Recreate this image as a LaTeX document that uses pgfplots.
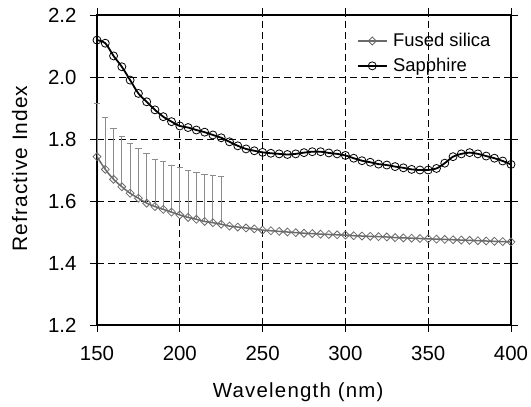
\documentclass[border=0pt]{standalone}
\usepackage{pgfplots}
\pgfplotsset{compat=1.18}
\usepackage{pgfplotstable}
\usepackage{fontspec}
\setmainfont{Liberation Sans}
\definecolor{silica}{HTML}{6A6A6A}
\definecolor{errgray}{HTML}{8C8C8C}

\pgfplotstableread{
x y
150 1.743
155 1.702
160 1.670
165 1.646
170 1.625
175 1.609
180 1.593
185 1.582
190 1.573
195 1.564
200 1.555
205 1.547
210 1.541
215 1.534
220 1.530
225 1.525
230 1.519
235 1.516
240 1.513
245 1.510
250 1.506
255 1.504
260 1.502
265 1.500
270 1.498
275 1.496
280 1.495
285 1.493
290 1.492
295 1.491
300 1.490
305 1.488
310 1.487
315 1.486
320 1.485
325 1.484
330 1.482
335 1.481
340 1.480
345 1.479
350 1.478
355 1.477
360 1.476
365 1.475
370 1.474
375 1.473
380 1.472
385 1.471
390 1.470
395 1.469
400 1.468
}\silica

\pgfplotstableread{
x y e
150 1.743 0.173
155 1.702 0.168
160 1.670 0.165
165 1.646 0.161
170 1.625 0.162
175 1.609 0.159
180 1.593 0.159
185 1.582 0.153
190 1.573 0.153
195 1.564 0.152
200 1.555 0.154
205 1.547 0.153
210 1.541 0.152
215 1.534 0.153
220 1.530 0.154
225 1.525 0.153
}\silicaerr

\pgfplotstableread{
x y
150 2.119
155 2.109
160 2.068
165 2.033
170 1.990
175 1.947
180 1.920
185 1.894
190 1.872
195 1.856
200 1.842
205 1.837
210 1.829
215 1.822
220 1.813
225 1.804
230 1.791
235 1.778
240 1.768
245 1.762
250 1.757
255 1.754
260 1.752
265 1.750
270 1.752
275 1.756
280 1.759
285 1.759
290 1.755
295 1.752
300 1.747
305 1.738
310 1.730
315 1.725
320 1.719
325 1.716
330 1.711
335 1.707
340 1.702
345 1.700
350 1.700
355 1.705
360 1.722
365 1.743
370 1.752
375 1.756
380 1.752
385 1.745
390 1.738
395 1.729
400 1.718
}\sapphire

\begin{document}
\begin{tikzpicture}
\useasboundingbox (0,0) rectangle (531bp,407bp);
\begin{axis}[
  at={(97bp,82bp)}, anchor=south west,
  scale only axis, width=414bp, height=310bp,
  xmin=150, xmax=400, ymin=1.2, ymax=2.2,
  xtick={150,200,...,400},
  ytick={1.2,1.4,...,2.2},
  /pgf/number format/assume math mode=true,
  yticklabel style={/pgf/number format/.cd, fixed, fixed zerofill, precision=1},
  xticklabel style={/pgf/number format/.cd, fixed, precision=0, set thousands separator={}},
  tick label style={font=\fontsize{20.5}{24}\selectfont},
  xticklabel shift=11bp,
  yticklabel shift=10bp,
  tick align=outside,
  major tick length=7bp,
  tick style={black, line width=0.8bp},
  axis line style={black, line width=1.6bp},
  grid=major,
  major grid style={black, line width=0.8bp, dash pattern=on 7bp off 4bp},
  xlabel={\addfontfeature{LetterSpace=6}Wavelength (nm)},
  ylabel={\addfontfeature{LetterSpace=5}Refractive Index},
  every axis x label/.style={at={(rel axis cs:0.486,-0.235)}, anchor=base, font=\fontsize{20.5}{24}\selectfont},
  every axis y label/.style={at={(rel axis cs:-0.169,0.505)}, anchor=base, rotate=90, font=\fontsize{21}{24}\selectfont},
  legend style={draw=none, fill=none, at={(rel axis cs:0.62,0.952)}, anchor=north west,
    font=\fontsize{18.5}{22}\selectfont, row sep=7bp,
    nodes={inner sep=1.5bp}},
  legend cell align=left,
  legend image code/.code={\draw[mark repeat=2,mark phase=2] plot coordinates {(0bp,0bp) (14.5bp,0bp) (29bp,0bp)};},
  /tikz/every odd column/.append style={column sep=4bp},
]
\addplot[draw=none, mark=none, forget plot,
  error bars/.cd, y dir=plus, y explicit,
  error mark=none,
  error bar style={draw=errgray, line width=0.9bp}]
  table[x=x, y=y, y error=e] {\silicaerr};
\addplot[only marks, mark=-, mark size=3.2bp, forget plot,
  mark options={draw=errgray, line width=0.9bp}]
  table[x=x, y expr=\thisrow{y}+\thisrow{e}] {\silicaerr};
\addplot[silica, line width=1.5bp, smooth, mark=square, mark size=2.8bp,
  mark options={rotate=45, line width=0.8bp, fill=none, solid}]
  table[x=x, y=y] {\silica};
\addlegendentry{Fused silica}
\addplot[black, line width=1.8bp, smooth, mark=o, mark size=4bp,
  mark options={line width=0.8bp, solid}]
  table[x=x, y=y] {\sapphire};
\addlegendentry{Sapphire}
\end{axis}
\end{tikzpicture}
\end{document}
